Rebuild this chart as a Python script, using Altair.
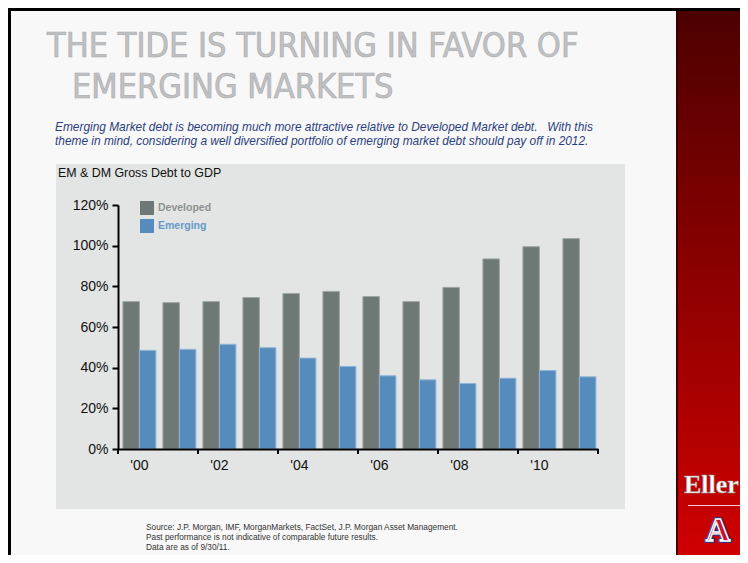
import altair as alt
import pandas as pd

# ---------------- data ----------------
years = list(range(2000, 2012))
developed = [72.5, 72.0, 72.5, 74.5, 76.5, 77.5, 75.0, 72.5, 79.5, 93.5, 99.5, 103.5]
emerging = [48.5, 49.0, 51.5, 49.8, 44.7, 40.6, 36.0, 34.0, 32.2, 34.8, 38.6, 35.5]
series = ["Developed", "Emerging"]
series_colors = ["#6E7975", "#568CBD"]
series_edges = ["#A0A8A5", "#8DB4D6"]
legend_text_colors = ["#8C9190", "#6599C9"]
y_ticks = [0, 20, 40, 60, 80, 100, 120]
x_tick_years = [2000, 2002, 2004, 2006, 2008, 2010, 2012]
x_label_years = [2000, 2002, 2004, 2006, 2008, 2010]
title_lines = ["THE TIDE IS TURNING IN FAVOR OF", "EMERGING MARKETS"]
subtitle_lines = [
    "Emerging Market debt is becoming much more attractive relative to Developed Market debt.\u00a0\u00a0 With this",
    "theme in mind, considering a well diversified portfolio of emerging market debt should pay off in 2012.",
]
panel_title = "EM & DM Gross Debt to GDP"
source_lines = [
    "Source: J.P. Morgan, IMF, MorganMarkets, FactSet, J.P. Morgan Asset Management.",
    "Past performance is not indicative of comparable future results.",
    "Data are as of 9/30/11.",
]
brand = "Eller"

rows = []
for i, yr in enumerate(years):
    rows.append({"year": yr, "series": series[0], "value": developed[i]})
    rows.append({"year": yr, "series": series[1], "value": emerging[i]})
df = pd.DataFrame(rows)

W, H = 480, 244
PAD_L, PAD_T = 110, 197
CANVAS_W, CANVAS_H = 732, 547
RIGHT = CANVAS_W - PAD_L      # right canvas edge in plot coords
BOTTOM = CANVAS_H - PAD_T     # bottom canvas edge in plot coords
FONT = "Liberation Sans"


def one():
    return alt.Data(values=[{"k": 0}])


def rect(x1, x2, y1, y2, fill):
    return alt.Chart(one()).mark_rect(fill=fill).encode(
        x=alt.value(x1), x2=alt.value(x2), y=alt.value(y1), y2=alt.value(y2)
    )


def text(s, x, y, **kw):
    kw.setdefault("align", "left")
    kw.setdefault("font", FONT)
    return alt.Chart(one()).mark_text(text=s, **kw).encode(x=alt.value(x), y=alt.value(y))


red_grad = alt.Gradient(
    gradient="linear",
    stops=[alt.GradientStop(color="#4C0000", offset=0), alt.GradientStop(color="#D20000", offset=1)],
    x1=0, x2=0, y1=0, y2=1,
)

layers = []
# slide frame
layers.append(rect(-PAD_L, RIGHT, -PAD_T, -PAD_T + 3, "#000000"))
layers.append(rect(-PAD_L, -PAD_L + 3, -PAD_T, BOTTOM, "#000000"))
layers.append(alt.Chart(one()).mark_rect(fill=red_grad).encode(
    x=alt.value(559), x2=alt.value(RIGHT), y=alt.value(-PAD_T + 3), y2=alt.value(BOTTOM + 8)))
layers.append(rect(558, 560, -PAD_T + 3, BOTTOM, "#3A0000"))
# grey chart panel
layers.append(rect(-62, 507, -41, 304, "#E3E5E4"))

# title
TFONT = "Liberation Sans Narrow, DejaVu Sans Condensed, Liberation Sans"
layers.append(text(title_lines[0], -71, -148, fontSize=34, font=TFONT, color="#C0C1C3",
                   stroke="#A8A9AB", strokeWidth=0.6, baseline="alphabetic"))
layers.append(text(title_lines[1], -46, -107, fontSize=34, font=TFONT, color="#C0C1C3",
                   stroke="#A8A9AB", strokeWidth=0.6, baseline="alphabetic"))
# subtitle
for i, s in enumerate(subtitle_lines):
    layers.append(text(s, -63, -78 + 14 * i, fontSize=11.9, fontStyle="italic", color="#2B3F7D",
                       baseline="middle"))
# panel title
layers.append(text(panel_title, -60, -32, fontSize=12.4, color="#111111", baseline="middle"))
# source
for i, s in enumerate(source_lines):
    layers.append(text(s, 28, 323 + 10 * i, fontSize=8.3, color="#333333", baseline="middle"))

# brand area
layers.append(text(brand, 566, 288, fontSize=26, font="Liberation Serif", fontWeight="bold",
                   color="#FFFFFF", stroke="#9A9A9A", strokeWidth=0.6, baseline="alphabetic"))
layers.append(rect(570, RIGHT, 300, 301, "#F2D0D0"))
layers.append(text("A", 600, 336, fontSize=34, font="Liberation Serif", fontWeight="bold",
                   align="center", color="#FFFFFF", stroke="#1B3A8C", strokeWidth=3.5,
                   baseline="alphabetic"))
layers.append(text("A", 600, 336, fontSize=34, font="Liberation Serif", fontWeight="bold",
                   align="center", color="#C8102E", stroke="#FFFFFF", strokeWidth=1.4,
                   baseline="alphabetic"))

# legend
for i, (s, c, tc) in enumerate(zip(series, series_colors, legend_text_colors)):
    layers.append(rect(22, 36, -4 + 18 * i, 10 + 18 * i, c))
    layers.append(text(s, 40, 3 + 18 * i, fontSize=10.5, fontWeight="bold", color=tc,
                       baseline="middle"))

# bars
bars = alt.Chart(df).mark_bar(strokeWidth=1).encode(
    x=alt.X(
        "year:O",
        scale=alt.Scale(paddingInner=0.175, paddingOuter=0.0875, align=0.7),
        axis=alt.Axis(
            values=x_label_years,
            labelExpr="\"'\" + slice(toString(datum.value), 2)",
            tickSize=0, labelAngle=0, title=None, domainWidth=2, domainColor="#000000",
            labelPadding=9, labelFont=FONT, labelFontSize=14, labelColor="#111111", zindex=2,
        ),
    ),
    xOffset=alt.XOffset("series:N", scale=alt.Scale(domain=series)),
    y=alt.Y(
        "value:Q",
        scale=alt.Scale(domain=[0, 120], nice=False),
        axis=alt.Axis(
            values=y_ticks, labelExpr="datum.value + '%'", title=None, grid=False,
            tickSize=6, tickWidth=2, tickColor="#000000", domainWidth=2, domainColor="#000000",
            labelPadding=4, labelFont=FONT, labelFontSize=14, labelColor="#111111", zindex=2,
        ),
    ),
    color=alt.Color("series:N", scale=alt.Scale(domain=series, range=series_colors), legend=None),
    stroke=alt.Stroke("series:N", scale=alt.Scale(domain=series, range=series_edges), legend=None),
)
layers.append(bars)

# x ticks at every other year boundary
ticks = alt.Chart(pd.DataFrame({"t": x_tick_years})).mark_rule(color="#000000", strokeWidth=2).encode(
    x=alt.X("t:Q", scale=alt.Scale(domain=[x_tick_years[0], x_tick_years[-1]], nice=False), axis=None),
    y=alt.value(H),
    y2=alt.value(H + 5),
)
layers.append(ticks)

chart = (
    alt.layer(*layers)
    .resolve_scale(x="independent")
    .properties(
        width=W,
        height=H,
        autosize=alt.AutoSizeParams(type="none"),
        padding={"left": PAD_L, "top": PAD_T, "right": CANVAS_W - PAD_L - W,
                 "bottom": CANVAS_H - PAD_T - H},
        background="#F8F8F8",
    )
    .configure_view(stroke=None)
)

chart.save("out.html", embed_options={"renderer": "svg", "actions": False})
